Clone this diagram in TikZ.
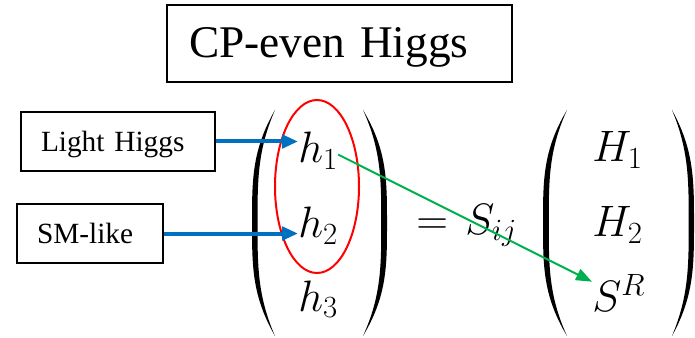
\RequirePackage{fix-cm}
\documentclass[tikz,border=0pt]{standalone}
\usepackage[no-math]{fontspec}
\setmainfont{Liberation Serif}
\usepackage{tikz}
\usetikzlibrary{arrows.meta,shapes.geometric}
\definecolor{HiggsBlue}{HTML}{0070C0}
\definecolor{HiggsGreen}{HTML}{00B050}
\definecolor{HiggsRed}{HTML}{FF0000}

\begin{document}
\begin{tikzpicture}[
  x=0.75pt,y=-0.75pt,
  titlebox/.style={rectangle,draw,line width=1.7pt,minimum width=258.75pt,minimum height=57.75pt,text width=225.75pt,inner xsep=16.5pt,align=left,text height=23pt,text depth=1.25pt,font=\fontsize{34}{40}\selectfont},
  labelbox/.style={rectangle,draw,line width=1.5pt,minimum height=44.25pt,inner xsep=15pt,align=left,text height=16pt,text depth=1pt,font=\fontsize{22}{26}\selectfont},
  entry/.style={inner sep=0pt,anchor=base west,font=\fontsize{33}{39}\selectfont},
  bluearrow/.style={-{Triangle[length=12pt,width=10pt]},line width=3pt,color=HiggsBlue},
  greenarrow/.style={-{Triangle[length=12pt,width=9pt]},line width=1.5pt,color=HiggsGreen}
]
\useasboundingbox (0,0) rectangle (695,338);
% title
\node[titlebox] (title) at (339.5,43.5) {CP-even Higgs};
% labels
\node[labelbox,text width=115.5pt] (light) at (118,141.5) {Light Higgs};
\node[labelbox,text width=79.5pt] (smlike) at (90,233.5) {SM-like};
% mass and gauge states
\node[entry] (h1) at (298,163) {$h_1$};
\node[entry] (h2) at (298,238) {$h_2$};
\node[entry] (h3) at (298,311) {$h_3$};
\node[entry] (eq) at (416,234) {$=$};
\node[entry] (Sij) at (465,234) {$S_{ij}$};
\node[entry] (H1) at (592,162) {$H_1$};
\node[entry] (H2) at (592,237) {$H_2$};
\node[entry] (SR) at (592,311) {$S^R$};
% parentheses
\foreach \tx/\bx in {275/252,363/387,567/543,672/694}{
  \pgfmathsetmacro{\ix}{\bx+0.24*(\tx-\bx)}
  \fill (\tx,110) .. controls (\bx,150) and (\bx,180) .. (\bx,223)
    .. controls (\bx,266) and (\bx,296) .. (\tx,336)
    .. controls (\ix,296) and (\ix,266) .. (\ix,223)
    .. controls (\ix,180) and (\ix,150) .. (\tx,110) -- cycle;
}
% light states
\node[ellipse,draw=HiggsRed,line width=1.5pt,minimum width=63pt,minimum height=129.75pt] (pair) at (317,186.5) {};
\draw[bluearrow] (light.east) -- (light.east -| h1.west);
\draw[bluearrow] (smlike.east) -- (smlike.east -| h2.west);
\draw[greenarrow] (h1.-10) -- (SR.158);
\end{tikzpicture}
\end{document}
